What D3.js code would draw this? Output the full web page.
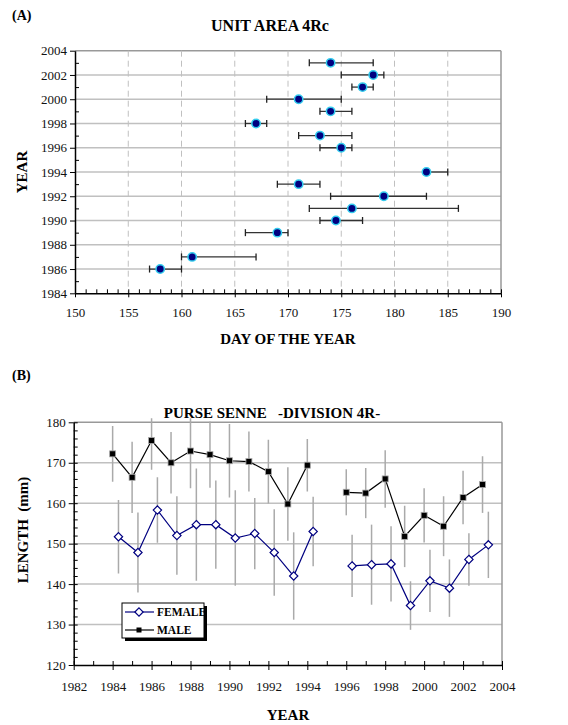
<!DOCTYPE html>
<html>
<head>
<meta charset="utf-8">
<script src="https://cdn.jsdelivr.net/npm/d3@7"></script>
<style>
  body { margin: 0; background: #fff; }
  text { font-family: "Liberation Serif", "Times New Roman", serif; }
</style>
</head>
<body>
<div id="chart"></div>
<script>
// (A) day of the year per year, with range
const yearsA  = [2003, 2002, 2001, 2000, 1999, 1998, 1997, 1996, 1994, 1993, 1992, 1991, 1990, 1989, 1987, 1986];
const dayMean = [174, 178, 177, 171, 174, 167, 173, 175, 183, 171, 179, 176, 174.5, 169, 161, 158];
const dayLow  = [172, 175, 176, 168, 173, 166, 171, 173, 183, 169, 174, 172, 173, 166, 160, 157];
const dayHigh = [178, 179, 178, 175, 176, 168, 176, 176, 185, 173, 183, 186, 177, 170, 167, 160];

// (B) mean length (mm) and standard deviation, null = no sample
const yearsB    = [1984, 1985, 1986, 1987, 1988, 1989, 1990, 1991, 1992, 1993, 1994, 1995, 1996, 1997, 1998, 1999, 2000, 2001, 2002, 2003];
const maleLen   = [172.2, 166.4, 175.5, 170.0, 172.9, 172.0, 170.5, 170.3, 167.8, 159.8, 169.4, null, 162.7, 162.5, 166.0, 151.8, 157.0, 154.3, 161.4, 164.6];
const maleSd    = [6.9, 8.8, 7.2, 7.6, 9.2, 8.2, 9.1, 7.4, 7.9, 9.1, 6.5, null, 5.7, 6.2, 7.1, 7.6, 6.7, 7.4, 6.6, 7.0];
const femaleLen = [151.7, 147.8, 158.3, 152.0, 154.7, 154.7, 151.4, 152.5, 147.8, 142.0, 153.0, null, 144.5, 144.8, 145.0, 134.7, 140.8, 139.0, 146.1, 149.7];
const femaleSd  = [9.1, 9.9, 8.1, 9.7, 13.9, 10.9, 11.8, 8.8, 10.7, 10.8, 8.6, null, 7.7, 9.9, 9.3, 6.0, 7.7, 7.1, 6.5, 8.2];
const femaleShift = 0.3; // female points drawn a little to the right of the year

const W = 568, H = 725;
const serif = "Liberation Serif, Times New Roman, serif";
const svg = d3.select("#chart").append("svg").attr("width", W).attr("height", H);

const gridCol = "#c0c0c0";

// style helper for axis groups
function styleAxis(a) {
  a.attr("font-family", serif);
  a.selectAll("text").attr("font-size", 13).attr("fill", "#111");
  a.select(".domain").attr("stroke-width", 1.5);
}

// ---------- chart A ----------
const xA = d3.scaleLinear().domain([150, 190]).range([75, 501]);
const yA = d3.scaleLinear().domain([1984, 2004]).range([293.3, 50.7]);

svg.append("text").attr("x", 12).attr("y", 20).attr("font-weight", "bold").attr("font-size", 14).text("(A)");
svg.append("text").attr("x", 270).attr("y", 31).attr("text-anchor", "middle")
  .attr("font-weight", "bold").attr("font-size", 16).text("UNIT AREA 4Rc");

const gA = svg.append("g");
// horizontal grid
gA.selectAll(".hg").data(d3.range(1986, 2005, 2)).enter().append("line")
  .attr("x1", xA(150)).attr("x2", xA(190))
  .attr("y1", d => yA(d)).attr("y2", d => yA(d))
  .attr("stroke", d => d === 2004 ? "#999" : gridCol).attr("stroke-width", 1.5);
// vertical dashed grid
gA.selectAll(".vg").data(d3.range(155, 190, 5)).enter().append("line")
  .attr("x1", d => xA(d)).attr("x2", d => xA(d))
  .attr("y1", yA(2004)).attr("y2", yA(1984))
  .attr("stroke", gridCol).attr("stroke-dasharray", "6,4");
// right border
gA.append("line").attr("x1", xA(190)).attr("x2", xA(190)).attr("y1", yA(2004)).attr("y2", yA(1984))
  .attr("stroke", "#999").attr("stroke-width", 1.5);

// axes
const axAx = gA.append("g").attr("transform", `translate(0,${yA(1984)})`)
  .call(d3.axisBottom(xA).tickValues(d3.range(150, 191, 5)).tickSize(4).tickSizeOuter(0).tickPadding(10));
gA.append("g").attr("transform", `translate(0,${yA(1984)})`)
  .call(d3.axisTop(xA).tickValues(d3.range(150, 191, 1)).tickSize(4).tickFormat("").tickSizeOuter(0))
  .select(".domain").remove();
const ayAx = gA.append("g").attr("transform", `translate(${xA(150)},0)`)
  .call(d3.axisLeft(yA).tickValues(d3.range(1984, 2005, 2)).tickFormat(d3.format("d")).tickSize(5).tickSizeOuter(0).tickPadding(3));
gA.append("g").attr("transform", `translate(${xA(150)},0)`)
  .call(d3.axisRight(yA).tickValues(d3.range(1985, 2004, 2)).tickSize(4).tickFormat("").tickSizeOuter(0))
  .select(".domain").remove();
styleAxis(axAx);
styleAxis(ayAx);

// error bars
const errA = gA.append("g");
yearsA.forEach((yr, i) => {
  const y = yA(yr);
  errA.append("line").attr("x1", xA(dayLow[i])).attr("x2", xA(dayHigh[i])).attr("y1", y).attr("y2", y)
    .attr("stroke", "#333").attr("stroke-width", 1.3);
  [dayLow[i], dayHigh[i]].forEach(v => {
    errA.append("line").attr("x1", xA(v)).attr("x2", xA(v)).attr("y1", y - 3.5).attr("y2", y + 3.5)
      .attr("stroke", "#222").attr("stroke-width", 1.3);
  });
});
gA.selectAll(".pt").data(yearsA).enter().append("circle")
  .attr("cx", (d, i) => xA(dayMean[i])).attr("cy", d => yA(d)).attr("r", 4.2)
  .attr("fill", "#000080").attr("stroke", "#33ccee").attr("stroke-width", 1.5);

svg.append("text").attr("transform", `translate(27,172) rotate(-90)`).attr("text-anchor", "middle")
  .attr("font-weight", "bold").attr("font-size", 15).text("YEAR");
svg.append("text").attr("x", 288).attr("y", 344).attr("text-anchor", "middle")
  .attr("font-weight", "bold").attr("font-size", 15).text("DAY OF THE YEAR");

// ---------- chart B ----------
const xB = d3.scaleLinear().domain([1982, 2004]).range([73.7, 502]);
const yB = d3.scaleLinear().domain([120, 180]).range([665, 422.3]);

svg.append("text").attr("x", 12).attr("y", 380).attr("font-weight", "bold").attr("font-size", 14).text("(B)");
svg.append("text").attr("x", 272).attr("y", 418).attr("text-anchor", "middle")
  .attr("font-weight", "bold").attr("font-size", 15).style("white-space", "pre")
  .text("PURSE SENNE   -DIVISION 4R-");

const gB = svg.append("g");
gB.selectAll(".hg").data(d3.range(130, 181, 10)).enter().append("line")
  .attr("x1", xB(1982)).attr("x2", xB(2004))
  .attr("y1", d => yB(d)).attr("y2", d => yB(d))
  .attr("stroke", d => d === 180 ? "#999" : gridCol).attr("stroke-width", 1.5);
gB.append("line").attr("x1", xB(2004)).attr("x2", xB(2004)).attr("y1", yB(180)).attr("y2", yB(120))
  .attr("stroke", "#999").attr("stroke-width", 1.5);

const bxAx = gB.append("g").attr("transform", `translate(0,${yB(120)})`)
  .call(d3.axisBottom(xB).tickValues(d3.range(1982, 2005, 2)).tickFormat(d3.format("d")).tickSize(5).tickSizeOuter(0).tickPadding(12));
gB.append("g").attr("transform", `translate(0,${yB(120)})`)
  .call(d3.axisTop(xB).tickValues(d3.range(1982, 2005, 1)).tickSize(4).tickFormat("").tickSizeOuter(0))
  .select(".domain").remove();
const byAx = gB.append("g").attr("transform", `translate(${xB(1982)},0)`)
  .call(d3.axisLeft(yB).tickValues(d3.range(120, 181, 10)).tickSize(5).tickSizeOuter(0).tickPadding(3));
gB.append("g").attr("transform", `translate(${xB(1982)},0)`)
  .call(d3.axisRight(yB).tickValues(d3.range(120, 181, 2)).tickSize(4).tickFormat("").tickSizeOuter(0))
  .select(".domain").remove();
styleAxis(bxAx);
styleAxis(byAx);

svg.append("defs").append("clipPath").attr("id", "clipB").append("rect")
  .attr("x", xB(1982)).attr("y", yB(180) - 4).attr("width", xB(2004) - xB(1982)).attr("height", yB(120) - yB(180) + 4);

const series = [
  { name: "MALE", vals: maleLen, sd: maleSd, shift: 0, color: "#000" },
  { name: "FEMALE", vals: femaleLen, sd: femaleSd, shift: femaleShift, color: "#000080" }
];
const plotB = gB.append("g").attr("clip-path", "url(#clipB)");
series.forEach(s => {
  yearsB.forEach((yr, i) => {
    if (s.vals[i] == null) return;
    plotB.append("line").attr("x1", xB(yr + s.shift)).attr("x2", xB(yr + s.shift))
      .attr("y1", yB(s.vals[i] + s.sd[i])).attr("y2", yB(s.vals[i] - s.sd[i]))
      .attr("stroke", "#aaa").attr("stroke-width", 1.5);
  });
});
series.forEach(s => {
  const line = d3.line().defined((d, i) => s.vals[i] != null)
    .x(d => xB(d + s.shift)).y((d, i) => yB(s.vals[i]));
  gB.append("path").datum(yearsB).attr("d", line).attr("fill", "none")
    .attr("stroke", s.color).attr("stroke-width", 1.2);
});
// markers
const ptsM = yearsB.filter((d, i) => maleLen[i] != null);
gB.selectAll(".m").data(ptsM).enter().append("rect")
  .attr("x", d => xB(d) - 3).attr("y", d => yB(maleLen[yearsB.indexOf(d)]) - 3)
  .attr("width", 6).attr("height", 6).attr("fill", "#000").attr("stroke", "#aaa").attr("stroke-width", 0.8);
const ptsF = yearsB.filter((d, i) => femaleLen[i] != null);
const diamond = d3.symbol().type(d3.symbolDiamond2).size(44);
gB.selectAll(".f").data(ptsF).enter().append("path")
  .attr("d", diamond)
  .attr("transform", d => `translate(${xB(d + femaleShift)},${yB(femaleLen[yearsB.indexOf(d)])})`)
  .attr("fill", "#fff").attr("stroke", "#000080").attr("stroke-width", 1.2);

// legend
const lg = svg.append("g").attr("transform", "translate(122,603)");
lg.append("rect").attr("x", 3).attr("y", 3).attr("width", 82).attr("height", 35).attr("fill", "#000");
lg.append("rect").attr("x", 0).attr("y", 0).attr("width", 82).attr("height", 35).attr("fill", "#fff").attr("stroke", "#000");
lg.append("line").attr("x1", 3).attr("x2", 32).attr("y1", 9).attr("y2", 9).attr("stroke", "#000080").attr("stroke-width", 1.2);
lg.append("path").attr("d", diamond).attr("transform", "translate(17,9)").attr("fill", "#fff").attr("stroke", "#000080").attr("stroke-width", 1.2);
lg.append("text").attr("x", 35).attr("y", 13).attr("font-weight", "bold").attr("font-size", 11.5).text("FEMALE");
lg.append("line").attr("x1", 3).attr("x2", 32).attr("y1", 27).attr("y2", 27).attr("stroke", "#000").attr("stroke-width", 1.2);
lg.append("rect").attr("x", 14.5).attr("y", 24.5).attr("width", 5).attr("height", 5).attr("fill", "#000");
lg.append("text").attr("x", 35).attr("y", 31).attr("font-weight", "bold").attr("font-size", 11.5).text("MALE");

svg.append("text").attr("transform", `translate(28,530) rotate(-90)`).attr("text-anchor", "middle")
  .attr("font-weight", "bold").attr("font-size", 15).style("white-space", "pre").text("LENGTH  (mm)");
svg.append("text").attr("x", 288).attr("y", 720).attr("text-anchor", "middle")
  .attr("font-weight", "bold").attr("font-size", 15).text("YEAR");
</script>
</body>
</html>
